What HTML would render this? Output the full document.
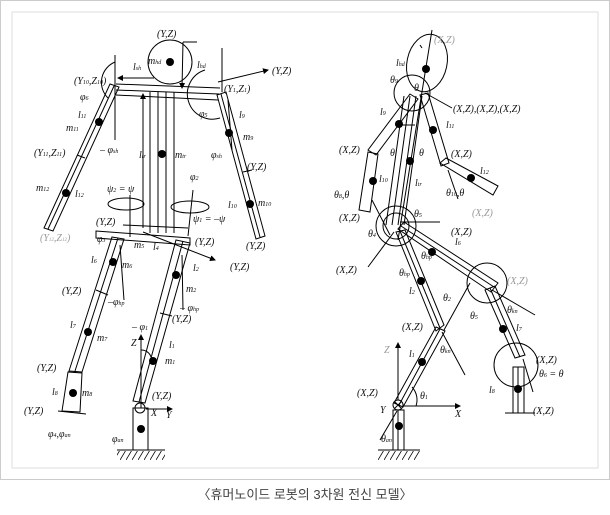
<!DOCTYPE html>
<html><head><meta charset="utf-8"><style>
html,body{margin:0;padding:0;background:#fff;width:610px;height:515px;overflow:hidden}
svg{display:block}
text{font-family:"Liberation Serif",serif;font-style:italic;font-size:10px;fill:#111}
.g{fill:#999}
.cap{font-family:"Liberation Sans","Noto Sans CJK KR",sans-serif;font-style:normal;font-size:13px;fill:#444}
</style></head><body>
<svg width="610" height="515" viewBox="0 0 610 515" xmlns="http://www.w3.org/2000/svg">
<defs>
<marker id="a" markerWidth="6" markerHeight="6" refX="5" refY="3" orient="auto"><path d="M0,0 L6,3 L0,6z" fill="#000"/></marker>
<pattern id="h" width="6" height="10" patternUnits="userSpaceOnUse"><line x1="6" y1="0" x2="0" y2="10" stroke="#000" stroke-width="0.8"/></pattern>
</defs>
<rect x="0.5" y="0.5" width="609" height="479" fill="#fff" stroke="#ccc"/>
<rect x="12" y="12" width="586" height="456" fill="#fff" stroke="#ddd"/>

<g stroke="#000" fill="none" stroke-width="1">
<!-- LEFT FIGURE -->
<circle cx="170" cy="62" r="22"/>
<line x1="183" y1="42" x2="197" y2="42"/>
<line x1="183" y1="42" x2="182" y2="88" marker-end="url(#a)"/>
<!-- shoulder bar -->
<line x1="116" y1="84" x2="220" y2="88"/>
<line x1="116" y1="90" x2="219" y2="94"/>
<line x1="116" y1="95" x2="218" y2="100"/>
<line x1="154" y1="78" x2="118" y2="78" marker-end="url(#a)"/>
<line x1="115" y1="55" x2="115" y2="140"/>
<line x1="222" y1="48" x2="222" y2="92"/>
<line x1="218" y1="82" x2="268" y2="70" marker-end="url(#a)"/>
<path d="M115,62 A22,22 0 0,0 108,98" />
<path d="M205,70 A25,25 0 0,0 220,118"/>
<!-- torso -->
<line x1="150" y1="92" x2="150" y2="233"/>
<line x1="158" y1="92" x2="158" y2="233"/>
<line x1="166" y1="92" x2="166" y2="233"/>
<line x1="174" y1="92" x2="174" y2="233"/>
<line x1="143" y1="228" x2="143" y2="94" marker-end="url(#a)"/>
<!-- left arm -->
<polygon points="110,84 119,87 53,231 44,228"/>
<line x1="114" y1="86" x2="48" y2="229"/>
<line x1="77" y1="155" x2="85" y2="158"/>
<!-- right arm -->
<polygon points="217,95 226,92 265,236 256,239"/>
<line x1="221" y1="94" x2="260" y2="237"/>
<line x1="243" y1="172" x2="252" y2="170"/>
<line x1="228" y1="100" x2="232" y2="150"/>
<!-- hip bar -->
<polygon points="96,231 190,238 190,245 96,238"/>
<line x1="123" y1="225" x2="188" y2="228"/>
<line x1="143" y1="232" x2="215" y2="260" marker-end="url(#a)"/>
<line x1="130" y1="237" x2="130" y2="195"/>
<line x1="193" y1="190" x2="188" y2="236"/>
<ellipse cx="126" cy="204" rx="18" ry="6"/>
<ellipse cx="190" cy="207" rx="19" ry="6"/>
<!-- left leg -->
<polygon points="112,237 124,239 82,372 69,371"/>
<line x1="118" y1="238" x2="75" y2="371"/>
<line x1="96" y1="290" x2="108" y2="295"/>
<polygon points="68,372 82,373 80,412 62,411"/>
<line x1="58" y1="411" x2="86" y2="414"/>
<line x1="120" y1="245" x2="124" y2="300"/>
<!-- right leg -->
<polygon points="176,240 190,243 145,403 133,401"/>
<line x1="183" y1="241" x2="139" y2="402"/>
<line x1="160" y1="313" x2="172" y2="316"/>
<line x1="182" y1="255" x2="183" y2="310"/>
<circle cx="140" cy="408" r="5"/>
<rect x="133" y="408" width="15" height="42"/>
<line x1="117" y1="450" x2="165" y2="450"/>
<line x1="141" y1="408" x2="141" y2="335" marker-end="url(#a)"/>
<line x1="146" y1="409" x2="172" y2="409" marker-end="url(#a)"/>
<path d="M141,350 A10,10 0 0,1 151,357"/>

<!-- RIGHT FIGURE -->
<ellipse cx="427" cy="63" rx="20" ry="29" transform="rotate(12 427 63)"/>
<circle cx="412" cy="93" r="18"/>
<line x1="432" y1="30" x2="398" y2="240"/>
<line x1="420" y1="45" x2="422" y2="48"/>
<!-- torso -->
<line x1="404" y1="96" x2="386" y2="225"/>
<line x1="410" y1="96" x2="392" y2="225"/>
<line x1="416" y1="96" x2="398" y2="225"/>
<line x1="422" y1="96" x2="404" y2="225"/>
<!-- front arm -->
<polygon points="410,94 418,99 376,155 368,150"/>
<polygon points="368,152 378,154 370,212 359,210"/>
<line x1="415" y1="125" x2="395" y2="125"/>
<!-- back arm -->
<polygon points="420,95 428,93 449,163 441,166"/>
<polygon points="440,163 446,158 498,186 493,195"/>
<line x1="425" y1="93" x2="452" y2="108"/>
<line x1="448" y1="170" x2="458" y2="199"/>
<!-- pelvis -->
<circle cx="396" cy="226" r="20"/>
<circle cx="396" cy="226" r="13"/>
<line x1="440" y1="222" x2="400" y2="222"/>
<line x1="368" y1="267" x2="394" y2="232"/>
<line x1="390" y1="235" x2="372" y2="200"/>
<!-- front thigh -->
<polygon points="398,229 404,222 498,283 491,292"/>
<line x1="401" y1="226" x2="494" y2="287"/>
<circle cx="487" cy="283" r="20"/>
<line x1="492" y1="290" x2="535" y2="315"/>
<!-- front shank -->
<polygon points="485,290 495,286 525,355 515,358"/>
<line x1="490" y1="288" x2="520" y2="357"/>
<circle cx="516" cy="365" r="22"/>
<line x1="523" y1="359" x2="533" y2="392"/>
<rect x="513" y="367" width="11" height="46"/>
<line x1="518" y1="367" x2="518" y2="413"/>
<line x1="505" y1="413" x2="535" y2="413"/>
<!-- back thigh -->
<polygon points="396,232 405,230 444,325 436,331"/>
<line x1="400" y1="231" x2="440" y2="328"/>
<line x1="444" y1="330" x2="470" y2="283"/>
<line x1="442" y1="332" x2="465" y2="375"/>
<!-- back shank -->
<polygon points="436,327 445,331 403,407 394,403"/>
<line x1="440" y1="329" x2="399" y2="405"/>
<line x1="397" y1="411" x2="380" y2="440"/>
<circle cx="398" cy="405" r="5"/>
<line x1="395" y1="402" x2="401" y2="408"/><line x1="401" y1="402" x2="395" y2="408"/>
<rect x="393" y="410" width="11" height="40"/>
<line x1="398" y1="410" x2="398" y2="450"/>
<line x1="378" y1="450" x2="420" y2="450"/>
<line x1="398" y1="400" x2="398" y2="343" marker-end="url(#a)"/>
<line x1="403" y1="406" x2="460" y2="406" marker-end="url(#a)"/>
<path d="M412,387 A19,19 0 0,1 416,406"/>
</g>
<rect x="117" y="451" width="48" height="9" fill="url(#h)"/>
<rect x="378" y="451" width="42" height="9" fill="url(#h)"/>
<g fill="#000">
<circle cx="170" cy="62" r="4"/><circle cx="99" cy="122" r="4"/><circle cx="66" cy="193" r="4"/>
<circle cx="229" cy="133" r="4"/><circle cx="250" cy="204" r="4"/><circle cx="162" cy="154" r="4"/>
<circle cx="113" cy="262" r="4"/><circle cx="88" cy="332" r="4"/><circle cx="73" cy="393" r="4"/>
<circle cx="176" cy="275" r="4"/><circle cx="153" cy="361" r="4"/><circle cx="141" cy="429" r="4"/>
<circle cx="426" cy="69" r="4"/><circle cx="399" cy="124" r="4"/><circle cx="373" cy="181" r="4"/>
<circle cx="433" cy="130" r="4"/><circle cx="471" cy="178" r="4"/><circle cx="410" cy="161" r="4"/>
<circle cx="432" cy="252" r="4"/><circle cx="503" cy="329" r="4"/><circle cx="518" cy="389" r="4"/>
<circle cx="421" cy="281" r="4"/><circle cx="422" cy="362" r="4"/><circle cx="399" cy="426" r="4"/>
</g>

<!-- labels left -->
<text x="157" y="37">(Y,Z)</text><text x="148" y="64">m<tspan font-size="6">hd</tspan></text>
<text x="133" y="70">l<tspan font-size="6">sh</tspan></text><text x="197" y="68">l<tspan font-size="6">hd</tspan></text>
<text x="272" y="74">(Y,Z)</text><text x="74" y="84">(Y<tspan font-size="6">10</tspan>,Z<tspan font-size="6">10</tspan>)</text>
<text x="224" y="92">(Y<tspan font-size="6">1</tspan>,Z<tspan font-size="6">1</tspan>)</text>
<text x="80" y="100">φ<tspan font-size="6">6</tspan></text><text x="199" y="117">φ<tspan font-size="6">5</tspan></text>
<text x="78" y="118">l<tspan font-size="6">11</tspan></text><text x="66" y="131">m<tspan font-size="6">11</tspan></text>
<text x="239" y="118">l<tspan font-size="6">9</tspan></text><text x="243" y="140">m<tspan font-size="6">9</tspan></text>
<text x="100" y="153">– φ<tspan font-size="6">sh</tspan></text><text x="211" y="158">φ<tspan font-size="6">sh</tspan></text>
<text x="34" y="156">(Y<tspan font-size="6">11</tspan>,Z<tspan font-size="6">11</tspan>)</text>
<text x="139" y="158">l<tspan font-size="6">tr</tspan></text><text x="175" y="158">m<tspan font-size="6">tr</tspan></text>
<text x="247" y="170">(Y,Z)</text><text x="36" y="191">m<tspan font-size="6">12</tspan></text><text x="75" y="197">l<tspan font-size="6">12</tspan></text>
<text x="107" y="192">ψ<tspan font-size="6">2</tspan> = ψ</text><text x="190" y="180">φ<tspan font-size="6">2</tspan></text>
<text x="228" y="208">l<tspan font-size="6">10</tspan></text><text x="258" y="206">m<tspan font-size="6">10</tspan></text>
<text x="193" y="222">ψ<tspan font-size="6">1</tspan> = –ψ</text>
<text x="40" y="241" class="g" font-size="8">(Y<tspan font-size="5">12</tspan>,Z<tspan font-size="5">12</tspan>)</text>
<text x="96" y="225">(Y,Z)</text><text x="246" y="249">(Y,Z)</text>
<text x="97" y="242">φ<tspan font-size="6">3</tspan></text><text x="195" y="245">(Y,Z)</text>
<text x="134" y="248">m<tspan font-size="6">5</tspan></text><text x="153" y="250">l<tspan font-size="6">4</tspan></text>
<text x="230" y="270">(Y,Z)</text><text x="91" y="263">l<tspan font-size="6">6</tspan></text><text x="122" y="268">m<tspan font-size="6">6</tspan></text>
<text x="193" y="271">l<tspan font-size="6">2</tspan></text><text x="186" y="292">m<tspan font-size="6">2</tspan></text>
<text x="62" y="294">(Y,Z)</text><text x="108" y="305">–φ<tspan font-size="6">hp</tspan></text>
<text x="180" y="311">– φ<tspan font-size="6">hp</tspan></text><text x="172" y="322">(Y,Z)</text>
<text x="70" y="328">l<tspan font-size="6">7</tspan></text><text x="97" y="341">m<tspan font-size="6">7</tspan></text>
<text x="132" y="330">– φ<tspan font-size="6">1</tspan></text><text x="131" y="346">Z</text>
<text x="169" y="348">l<tspan font-size="6">1</tspan></text><text x="165" y="364">m<tspan font-size="6">1</tspan></text>
<text x="37" y="371">(Y,Z)</text><text x="52" y="395">l<tspan font-size="6">8</tspan></text><text x="82" y="396">m<tspan font-size="6">8</tspan></text>
<text x="152" y="399">(Y,Z)</text><text x="24" y="414">(Y,Z)</text>
<text x="151" y="416">X</text><text x="166" y="418">Y</text>
<text x="48" y="437">φ<tspan font-size="6">4</tspan>,φ<tspan font-size="6">an</tspan></text><text x="112" y="442">φ<tspan font-size="6">an</tspan></text>

<!-- labels right -->
<text x="434" y="43" class="g" font-size="8">(X,Z)</text>
<text x="396" y="66">l<tspan font-size="6">hd</tspan></text><text x="390" y="83">θ<tspan font-size="6">9</tspan></text><text x="414" y="91">θ</text>
<text x="453" y="112">(X,Z),(X,Z),(X,Z)</text>
<text x="380" y="115">l<tspan font-size="6">9</tspan></text><text x="446" y="128">l<tspan font-size="6">11</tspan></text>
<text x="339" y="153">(X,Z)</text><text x="390" y="156">θ</text><text x="419" y="156">θ</text>
<text x="451" y="157">(X,Z)</text><text x="480" y="174">l<tspan font-size="6">12</tspan></text>
<text x="379" y="182">l<tspan font-size="6">10</tspan></text><text x="415" y="186">l<tspan font-size="6">tr</tspan></text>
<text x="334" y="198">θ<tspan font-size="6">8</tspan>,θ</text><text x="446" y="196">θ<tspan font-size="6">10</tspan>,θ</text>
<text x="339" y="221">(X,Z)</text><text x="414" y="217">θ<tspan font-size="6">5</tspan></text>
<text x="472" y="216" class="g" font-size="8">(X,Z)</text>
<text x="451" y="235">(X,Z)</text><text x="368" y="237">θ<tspan font-size="6">4</tspan></text>
<text x="455" y="245">l<tspan font-size="6">6</tspan></text><text x="421" y="259">θ<tspan font-size="6">hp</tspan></text>
<text x="336" y="273">(X,Z)</text><text x="399" y="276">θ<tspan font-size="6">hp</tspan></text>
<text x="507" y="284" class="g" font-size="8">(X,Z)</text>
<text x="409" y="294">l<tspan font-size="6">2</tspan></text><text x="443" y="301">θ<tspan font-size="6">2</tspan></text>
<text x="470" y="319">θ<tspan font-size="6">5</tspan></text><text x="507" y="313">θ<tspan font-size="6">kn</tspan></text>
<text x="402" y="330">(X,Z)</text><text x="516" y="331">l<tspan font-size="6">7</tspan></text>
<text x="440" y="353">θ<tspan font-size="6">kn</tspan></text><text x="409" y="357">l<tspan font-size="6">1</tspan></text>
<text x="536" y="363">(X,Z)</text><text x="539" y="377">θ<tspan font-size="6">6</tspan> = θ</text>
<text x="384" y="353" class="g">Z</text><text x="357" y="396">(X,Z)</text><text x="380" y="413">Y</text>
<text x="420" y="399">θ<tspan font-size="6">1</tspan></text><text x="489" y="393">l<tspan font-size="6">8</tspan></text>
<text x="455" y="417">X</text><text x="533" y="414">(X,Z)</text>
<text x="381" y="442">θ<tspan font-size="6">an</tspan></text>

<text x="305" y="499" text-anchor="middle" class="cap">〈휴머노이드 로봇의 3차원 전신 모델〉</text>
</svg>
</body></html>
